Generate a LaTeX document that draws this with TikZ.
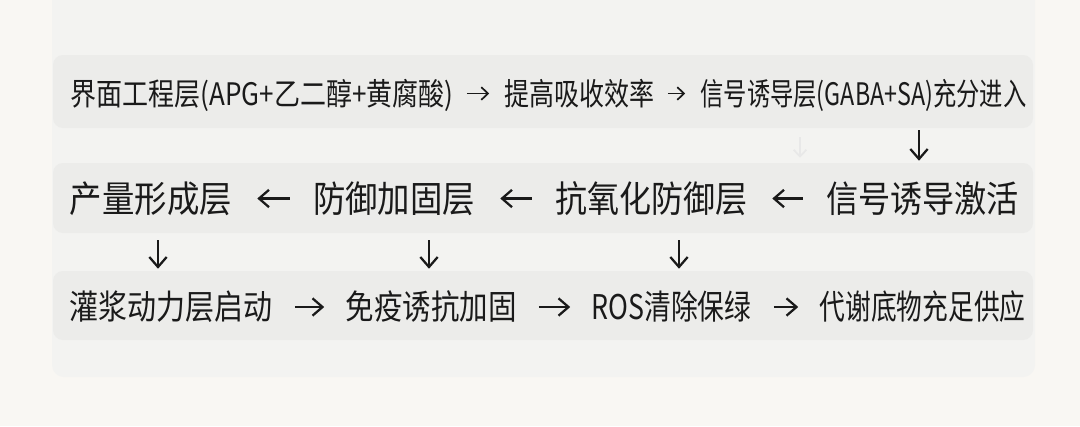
\documentclass[tikz,border=0pt]{standalone}
\usepackage{fontspec}
\usepackage{graphicx}
\usepackage{xcolor}
\usepackage{tikz}
\usetikzlibrary{arrows.meta,positioning}
\newfontfamily\cjk{Noto Sans CJK SC}
\newdimen\pxu \pxu=0.75pt
\newcommand{\fitw}[2]{\resizebox{#1\pxu}{\height}{#2}}
\definecolor{pagebg}{RGB}{249,247,243}
\definecolor{panelbg}{RGB}{243,243,241}
\definecolor{bandbg}{RGB}{236,236,234}
\definecolor{inkc}{RGB}{26,26,26}

\begin{document}
\begin{tikzpicture}[
  x=0.75pt, y=-0.75pt,
  band/.style={fill=bandbg, rounded corners=10\pxu, minimum width=980\pxu, inner sep=0pt},
  lbl/.style={inner sep=0pt, text=inkc},
  toprow/.style={lbl, font=\cjk\fontsize{23.25pt}{28pt}\selectfont, text height=19.5pt, text depth=1.9pt},
  midrow/.style={lbl, font=\cjk\fontsize{27.4pt}{32pt}\selectfont, text height=23pt, text depth=2.2pt},
  lowrow/.style={lbl, font=\cjk\fontsize{25.5pt}{30pt}\selectfont, text height=21.4pt, text depth=2pt},
  sarr/.style={draw=inkc, line width=1.3pt, -{Straight Barb[length=5pt,width=9.5pt]}, shorten <=13\pxu, shorten >=15\pxu},
  barr/.style={draw=inkc, line width=1.7pt, -{Straight Barb[length=7.5pt,width=13pt]}},
  faint/.style={draw=black!9, line width=1.3pt, -{Straight Barb[length=5pt,width=9.5pt]}}
]
  \useasboundingbox (0,0) rectangle (1080,426);
  \fill[pagebg] (0,0) rectangle (1080,426);
  \fill[panelbg, rounded corners=12\pxu] (52,-20) rectangle (1035,377);

  % bands
  \node[band, minimum height=73\pxu] (band1) at (543,91.5) {};
  \node[band, minimum height=70\pxu] (band2) at (543,198) {};
  \node[band, minimum height=69\pxu] (band3) at (543,305.5) {};

  % row 1
  \node[toprow] (iface) at (262,93.5) {\fitw{383}{界面工程层(APG+乙二醇+黄腐酸)}};
  \node[toprow] (absorb) at (579.5,93.5) {\fitw{150}{提高吸收效率}};
  \node[toprow] (enter) at (863.5,93.5) {\fitw{326}{信号诱导层(GABA+SA)充分进入}};

  % row 2
  \node[midrow] (yield) at (151,198.5) {\fitw{162}{产量形成层}};
  \node[midrow] (guard) at (394,198.5) {\fitw{162}{防御加固层}};
  \node[midrow] (antiox) at (651,198.5) {\fitw{192}{抗氧化防御层}};
  \node[midrow] (signal) at (922.5,198.5) {\fitw{193}{信号诱导激活}};

  % row 3
  \node[lowrow] (grain) at (171,307) {\fitw{203}{灌浆动力层启动}};
  \node[lowrow] (immune) at (431,307) {\fitw{171}{免疫诱抗加固}};
  \node[lowrow] (ros) at (671.5,307) {\fitw{160}{ROS清除保绿}};
  \node[lowrow] (supply) at (922.5,307) {\fitw{206}{代谢底物充足供应}};

  \draw[sarr] (iface) -- (absorb);
  \draw[sarr] (absorb) -- (enter);

  \draw[barr, shorten <=23\pxu, shorten >=25\pxu] (guard) -- (yield);
  \draw[barr, shorten <=23\pxu, shorten >=25\pxu] (antiox) -- (guard);
  \draw[barr, shorten <=23\pxu, shorten >=25\pxu] (signal) -- (antiox);

  \draw[barr, shorten <=22\pxu, shorten >=21\pxu] (grain) -- (immune);
  \draw[barr, shorten <=22\pxu, shorten >=21\pxu] (immune) -- (ros);
  \draw[barr, shorten <=22\pxu, shorten >=21\pxu] (ros) -- (supply);

  % between the bands
  \draw[barr, shorten <=2\pxu, shorten >=2\pxu] (band1.south -| 919,0) -- (band2.north -| 919,0);
  \draw[faint, shorten <=9\pxu, shorten >=5\pxu] (band1.south -| 800,0) -- (band2.north -| 800,0);
  \draw[barr, shorten <=7\pxu, shorten >=2\pxu] (band2.south -| 158,0) -- (band3.north -| 158,0);
  \draw[barr, shorten <=7\pxu, shorten >=2\pxu] (band2.south -| 429,0) -- (band3.north -| 429,0);
  \draw[barr, shorten <=7\pxu, shorten >=2\pxu] (band2.south -| 679,0) -- (band3.north -| 679,0);
\end{tikzpicture}
\end{document}
